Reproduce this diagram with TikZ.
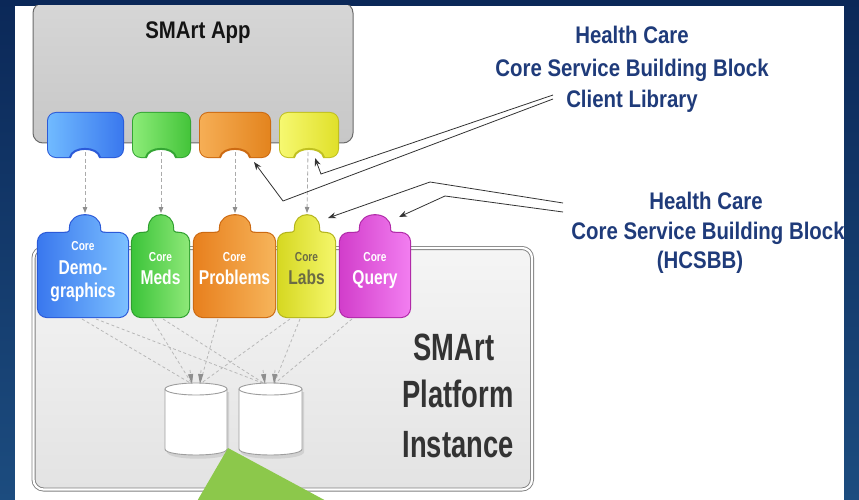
\documentclass[tikz,border=0pt]{standalone}
\usepackage{fontspec}
\setmainfont{Liberation Sans}
\newfontfamily\labelfont[FakeStretch=0.85]{Liberation Sans Bold}
\newfontfamily\platfont[FakeStretch=0.72]{Liberation Sans Bold}
\newfontfamily\corefont[FakeStretch=0.78]{Liberation Sans Bold}
\usetikzlibrary{arrows.meta,calc}

\definecolor{navyT}{HTML}{0B2858}
\definecolor{navyB}{HTML}{1C4C7F}
\definecolor{labelblue}{HTML}{1F3B7A}
\definecolor{platgray}{HTML}{333333}
\definecolor{dashgray}{HTML}{ABABAB}
\definecolor{tipgray}{HTML}{8E8E8E}
\definecolor{greenarrow}{HTML}{8CC84B}
\definecolor{labstext}{HTML}{6B6B45}
% tab colours
\definecolor{tbL}{HTML}{70BAFF}\definecolor{tbR}{HTML}{3A78EE}\definecolor{tbB}{HTML}{2B5AD8}
\definecolor{tgL}{HTML}{8CEC78}\definecolor{tgR}{HTML}{44C43A}\definecolor{tgB}{HTML}{34A534}
\definecolor{toL}{HTML}{F6AE55}\definecolor{toR}{HTML}{E3841E}\definecolor{toB}{HTML}{CC6A12}
\definecolor{tyL}{HTML}{F6F870}\definecolor{tyR}{HTML}{E0E02A}\definecolor{tyB}{HTML}{C0C020}
% core colours
\definecolor{cbL}{HTML}{3A78EE}\definecolor{cbR}{HTML}{7CC0FF}\definecolor{cbB}{HTML}{2B5AD8}
\definecolor{cgL}{HTML}{3CC43A}\definecolor{cgR}{HTML}{8EE878}\definecolor{cgB}{HTML}{2F9F2F}
\definecolor{coL}{HTML}{E8801E}\definecolor{coR}{HTML}{F6B45A}\definecolor{coB}{HTML}{CC6A12}
\definecolor{cyL}{HTML}{D6D822}\definecolor{cyR}{HTML}{F4F66A}\definecolor{cyB}{HTML}{B4B41C}
\definecolor{cmL}{HTML}{D23ECB}\definecolor{cmR}{HTML}{F27EF0}\definecolor{cmB}{HTML}{B02AA8}

\newcommand{\coreblk}[7]{% L R C w leftcolor rightcolor border
  \draw[draw=#7, line width=2.2pt, rounded corners=9pt] (#1,233) rectangle (#2,317);
  \draw[draw=#7, line width=2.2pt] (#3-#4-6,233) .. controls (#3-#4,233) and (#3-#4,231) .. (#3-#4,228)
     .. controls (#3-#4,211) and (#3+#4,211) .. (#3+#4,228)
     .. controls (#3+#4,231) and (#3+#4,233) .. (#3+#4+6,233);
  \begin{scope}
    \clip[rounded corners=9pt] (#1,233) rectangle (#2,317);
    \shade[left color=#5, right color=#6] (#1,205) rectangle (#2,320);
  \end{scope}
  \begin{scope}
    \clip (#3-#4-6,236) -- (#3-#4-6,233) .. controls (#3-#4,233) and (#3-#4,231) .. (#3-#4,228)
     .. controls (#3-#4,211) and (#3+#4,211) .. (#3+#4,228)
     .. controls (#3+#4,231) and (#3+#4,233) .. (#3+#4+6,233) -- (#3+#4+6,236) -- cycle;
    \shade[left color=#5, right color=#6] (#1,205) rectangle (#2,320);
  \end{scope}
}
\newcommand{\tabblk}[6]{% L R C leftcolor rightcolor border
  \draw[draw=#6, line width=2pt, rounded corners=8pt] (#1,113) rectangle (#2,157);
  \begin{scope}
    \clip[rounded corners=8pt] (#1,113) rectangle (#2,157);
    \shade[left color=#4, right color=#5] (#1,110) rectangle (#2,160);
  \end{scope}
  \fill[white] (#3-14,160) -- (#3-14,157) .. controls (#3-13,146) and (#3+13,146) .. (#3+14,157) -- (#3+14,160) -- cycle;
  \draw[draw=#6, line width=2pt] (#3-15,157.5) .. controls (#3-13,146) and (#3+13,146) .. (#3+15,157.5);
}
\newcommand{\dbcyl}[2]{% left x, right x
  \fill[black!18] (#1+2,392) -- (#1+2,452) .. controls (#1+2,461) and (#2+2,461) .. (#2+2,452) -- (#2+2,392) -- cycle;
  \filldraw[fill=white, draw=black!38, line width=0.9pt] (#1,389) -- (#1,449) .. controls (#1,457) and (#2,457) .. (#2,449) -- (#2,389);
  \filldraw[fill=white, draw=black!38, line width=0.9pt] ({(#1+#2)/2},389) ellipse [x radius={(#2-#1)/2*1pt}, y radius=6pt];
}

\tikzset{
  labeltext/.style={text=labelblue, font=\labelfont\fontsize{24}{26}\selectfont, anchor=base, inner sep=0pt},
  plattext/.style={text=platgray, font=\platfont\fontsize{38}{40}\selectfont, anchor=base, inner sep=0pt},
  coresmall/.style={text=white, font=\corefont\fontsize{13}{13}\selectfont, anchor=base, inner sep=0pt},
  corebig/.style={text=white, font=\corefont\fontsize{20}{20}\selectfont, anchor=base, inner sep=0pt},
  tabarrow/.style={draw=dashgray, line width=0.8pt, dash pattern=on 4pt off 2.5pt, -{Triangle[length=6pt,width=4.5pt,color=tipgray,fill=tipgray]}},
  dbline/.style={draw=black!28, line width=0.8pt, dash pattern=on 3pt off 2.5pt},
  dbtip/.style={draw=black!28, line width=0.8pt, dash pattern=on 3pt off 2.5pt, -{Triangle[length=10pt,width=5pt,color=tipgray,fill=tipgray]}},
  callout/.style={draw=black!80, line width=0.8pt, -{Stealth[length=8pt,width=6pt]}},
}

\begin{document}
\begin{tikzpicture}[x=1pt,y=-1pt]
\useasboundingbox (0,0) rectangle (859,500);
% background
\shade[top color=navyT, bottom color=navyB] (0,0) rectangle (859,500);
\fill[white] (15,6) rectangle (844,500);

% SMArt App box
\begin{scope}
  \clip (15,6) rectangle (844,500);
  \shade[top color=black!16, bottom color=black!22] [rounded corners=10pt] (33,3) rectangle (353,143);
  \draw[black!58, line width=1pt, rounded corners=10pt] (33,3) rectangle (353,143);
\end{scope}
\node[text=black!92, font=\labelfont\fontsize{24}{26}\selectfont, anchor=base, inner sep=0pt] (apptitle) at (198,39) {SMArt App};

% client library tabs
\tabblk{48}{123}{85}{tbL}{tbR}{tbB}
\tabblk{133}{190}{161}{tgL}{tgR}{tgB}
\tabblk{200}{270}{235}{toL}{toR}{toB}
\tabblk{280}{338}{309}{tyL}{tyR}{tyB}

% platform box
\shade[top color=black!4, bottom color=black!11, rounded corners=10pt] (33.5,248) rectangle (532,489.5);
\draw[draw=black!50, line width=0.9pt, double=white, double distance=2.2pt, rounded corners=10pt] (33.5,248) rectangle (532,489.5);

% database connectors
\coordinate (dbL1) at (192,384);
\coordinate (dbL2) at (200,384);
\coordinate (dbR1) at (265,384);
\coordinate (dbR2) at (274,384);
\coordinate (sDemoA) at (82,319);
\coordinate (sDemoB) at (96,319);
\coordinate (sMedsA) at (152,319);
\coordinate (sMedsB) at (163,319);
\coordinate (sProb) at (218,319);
\coordinate (sLabsA) at (290,319);
\coordinate (sLabsB) at (300,319);
\coordinate (sQuery) at (352,319);
\draw[dbline] (sDemoA) -- (dbL1);
\draw[dbline] (sDemoB) -- (dbR1);
\draw[dbline] (sMedsA) -- (dbL1);
\draw[dbline] (sMedsB) -- (dbR1);
\draw[dbline] (sProb) -- (dbL2);
\draw[dbline] (sLabsA) -- (dbL2);
\draw[dbline] (sLabsB) -- (dbR2);
\draw[dbline] (sQuery) -- (dbR2);

% databases
\dbcyl{165}{227}
\dbcyl{239}{302}
\draw[dbtip] ($(dbL1)+(-2,-14)$) -- (dbL1);
\draw[dbtip] ($(dbL2)+(1,-14)$) -- (dbL2);
\draw[dbtip] ($(dbR1)+(-2,-14)$) -- (dbR1);
\draw[dbtip] ($(dbR2)+(1,-14)$) -- (dbR2);

% core building blocks
\coreblk{38}{128}{85}{15}{cbL}{cbR}{cbB}
\coreblk{132}{189}{161}{12}{cgL}{cgR}{cgB}
\coreblk{194}{275}{235}{15}{coL}{coR}{coB}
\coreblk{278}{335}{307}{12}{cyL}{cyR}{cyB}
\coreblk{340}{410}{375}{15}{cmL}{cmR}{cmB}

\node[coresmall] (demoCore) at (83,250) {Core};
\node[corebig] (demoA) at (83,274) {Demo-};
\node[corebig] (demoB) at (83,297) {graphics};
\node[coresmall] (medsCore) at (160.5,261) {Core};
\node[corebig] (medsT) at (160.5,284) {Meds};
\node[coresmall] (probCore) at (234.5,261) {Core};
\node[corebig] (probT) at (234.5,284) {Problems};
\node[coresmall, text=labstext] (labsCore) at (306.5,261) {Core};
\node[corebig, text=labstext] (labsT) at (306.5,284) {Labs};
\node[coresmall] (queryCore) at (375,261) {Core};
\node[corebig] (queryT) at (375,284) {Query};

% tab to core dashed arrows
\coordinate (tabBlue) at (85,152);
\coordinate (tabGreen) at (161,152);
\coordinate (tabOrange) at (235,152);
\coordinate (tabYellow) at (308,152);
\coordinate (knobDemo) at (85,213);
\coordinate (knobMeds) at (161,213);
\coordinate (knobProb) at (235,213);
\coordinate (knobLabs) at (307,213);
\draw[tabarrow] (tabBlue) -- (knobDemo);
\draw[tabarrow] (tabGreen) -- (knobMeds);
\draw[tabarrow] (tabOrange) -- (knobProb);
\draw[tabarrow] (tabYellow) -- (knobLabs);

% platform label
\node[plattext] (platA) at (454,360) {SMArt};
\node[plattext] (platB) at (458,407) {Platform};
\node[plattext] (platC) at (458,457) {Instance};

% client library label
\node[labeltext] (clA) at (632,44) {Health Care};
\node[labeltext] (clB) at (632,77) {Core Service Building Block};
\node[labeltext] (clC) at (632,108) {Client Library};

% HCSBB label (clipped by panel edge)
\begin{scope}
  \clip (15,6) rectangle (844,500);
  \node[labeltext] (hcA) at (706,209) {Health Care};
  \node[labeltext] (hcB) at (708,239) {Core Service Building Block};
  \node[labeltext] (hcC) at (700,268) {(HCSBB)};
\end{scope}

% callouts
\coordinate (clEndA) at (553,95);
\coordinate (clEndB) at (553,99);
\coordinate (bendY) at (321,174);
\coordinate (bendO) at (283,201);
\coordinate (tipY) at (315,158);
\coordinate (tipO) at (254,162);
\draw[callout] (clEndA) -- (bendY) -- (tipY);
\draw[callout] (clEndB) -- (bendO) -- (tipO);

\coordinate (hcEndA) at (563,203);
\coordinate (hcEndB) at (563,212);
\coordinate (bendL) at (430,182);
\coordinate (bendQ) at (445,196);
\coordinate (tipL) at (328,218);
\coordinate (tipQ) at (399,217);
\draw[callout] (hcEndA) -- (bendL) -- (tipL);
\draw[callout] (hcEndB) -- (bendQ) -- (tipQ);

% big green arrow shape
\fill[greenarrow] (228,448) -- (330,503) -- (196,503) -- cycle;
\end{tikzpicture}
\end{document}
